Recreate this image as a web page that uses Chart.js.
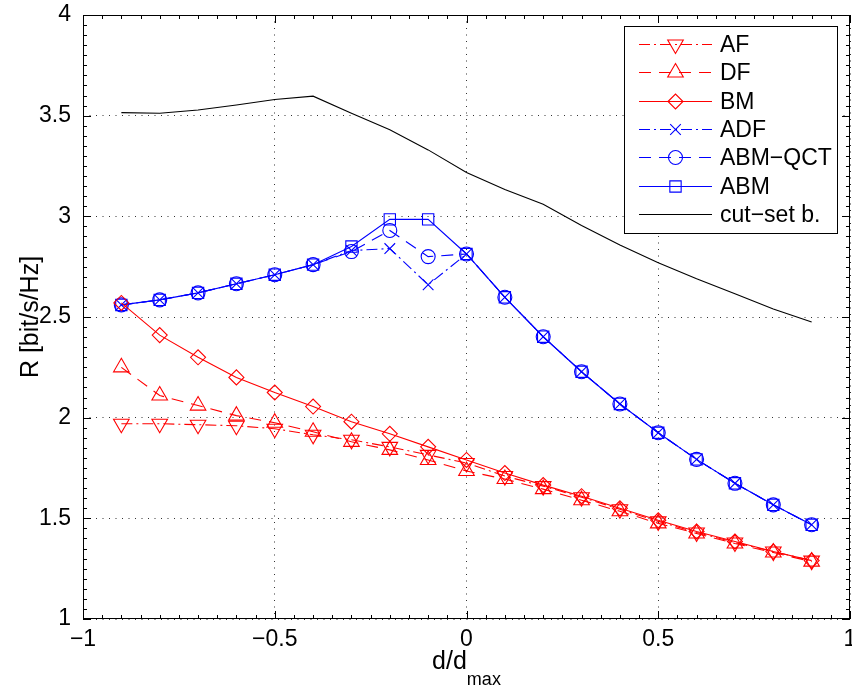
<!DOCTYPE html>
<html>
<head>
<meta charset="utf-8">
<title>Achievable rate vs relay position</title>
<script src="https://cdn.jsdelivr.net/npm/chart.js"></script>
<style>
  html, body { margin: 0; padding: 0; background: #fff; }
  canvas { display: block; }
</style>
</head>
<body>
<canvas id="rateChart" width="852" height="693"></canvas>
<script>
// relay position, normalised
var dRatio = [-0.9, -0.8, -0.7, -0.6, -0.5, -0.4, -0.3, -0.2, -0.1, 0, 0.1, 0.2, 0.3, 0.4, 0.5, 0.6, 0.7, 0.8, 0.9];

// rates in bit/s/Hz
var rateAF = [1.97, 1.97, 1.965, 1.96, 1.945, 1.915, 1.89, 1.855, 1.815, 1.775, 1.71, 1.66, 1.605, 1.545, 1.485, 1.43, 1.38, 1.335, 1.29];
var rateDF = [2.25, 2.11, 2.06, 2.01, 1.975, 1.93, 1.88, 1.84, 1.79, 1.735, 1.695, 1.645, 1.59, 1.535, 1.475, 1.425, 1.375, 1.33, 1.285];
var rateBM = [2.57, 2.41, 2.30, 2.20, 2.125, 2.055, 1.98, 1.92, 1.855, 1.79, 1.725, 1.665, 1.61, 1.55, 1.49, 1.435, 1.385, 1.335, 1.29];
var rateADF = [2.56, 2.585, 2.62, 2.665, 2.71, 2.76, 2.83, 2.84, 2.66, 2.813, 2.598, 2.402, 2.228, 2.068, 1.925, 1.793, 1.674, 1.567, 1.468];
var rateABMQCT = [2.56, 2.585, 2.62, 2.665, 2.71, 2.76, 2.825, 2.93, 2.80, 2.813, 2.598, 2.402, 2.228, 2.068, 1.925, 1.793, 1.674, 1.567, 1.468];
var rateABM = [2.56, 2.585, 2.62, 2.665, 2.71, 2.76, 2.85, 2.985, 2.985, 2.813, 2.598, 2.402, 2.228, 2.068, 1.925, 1.793, 1.674, 1.567, 1.468];
var rateCutSet = [3.515, 3.512, 3.528, 3.553, 3.58, 3.597, 3.512, 3.43, 3.33, 3.218, 3.133, 3.06, 2.955, 2.858, 2.77, 2.69, 2.615, 2.54, 2.475];

var xTicks = [-1, -0.5, 0, 0.5, 1];
var xTickLabels = ['\u22121', '\u22120.5', '0', '0.5', '1'];
var yTicks = [1, 1.5, 2, 2.5, 3, 3.5, 4];
var yTickLabels = ['1', '1.5', '2', '2.5', '3', '3.5', '4'];

var FONT = '"Liberation Sans", Arial, Helvetica, sans-serif';
var RED = '#ff0000', BLUE = '#0000ff';

function pts(ys) {
  return dRatio.map(function (x, i) { return { x: x, y: ys[i] }; });
}

function series(label, ys, color, dash, style, radius, rotation) {
  return {
    label: label,
    data: pts(ys),
    borderColor: color,
    borderWidth: 1.1,
    borderDash: dash,
    backgroundColor: 'rgba(0,0,0,0)',
    pointStyle: style,
    pointRadius: radius,
    pointRotation: rotation || 0,
    pointBorderColor: color,
    pointBackgroundColor: 'rgba(0,0,0,0)',
    pointBorderWidth: 1.1,
    tension: 0,
    fill: false
  };
}

var dashDot = [11, 4, 2, 4];
var dashed = [12, 8];

var datasets = [
  series('AF', rateAF, RED, dashDot, 'triangle', 9, 180),
  series('DF', rateDF, RED, dashed, 'triangle', 9),
  series('BM', rateBM, RED, [], 'rectRot', 7.5),
  series('ADF', rateADF, BLUE, dashDot, 'crossRot', 7.5),
  series('ABM\u2212QCT', rateABMQCT, BLUE, dashed, 'circle', 7),
  series('ABM', rateABM, BLUE, [], 'rect', 8),
  series('cut\u2212set b.', rateCutSet, '#000000', [], false, 0)
];

// box, inward tick marks, legend and axis titles
var decorations = {
  id: 'decorations',
  afterDraw: function (chart) {
    var ctx = chart.ctx, a = chart.chartArea;
    var xs = chart.scales.x, ys = chart.scales.y;
    ctx.save();
    ctx.strokeStyle = '#000';
    ctx.lineWidth = 1;
    ctx.setLineDash([]);
    ctx.strokeRect(Math.round(a.left) + 0.5, Math.round(a.top) + 0.5,
      Math.round(a.right - a.left) - 1, Math.round(a.bottom - a.top) - 1);

    ctx.beginPath();
    var v, p, k;
    for (k = 0; k <= 40; k++) {
      v = -1 + k * 0.05;
      p = Math.round(xs.getPixelForValue(v)) + 0.5;
      var len = (k % 10 === 0) ? 8 : 4;
      ctx.moveTo(p, a.bottom); ctx.lineTo(p, a.bottom - len);
      ctx.moveTo(p, a.top); ctx.lineTo(p, a.top + len);
    }
    for (k = 0; k <= 60; k++) {
      v = 1 + k * 0.05;
      p = Math.round(ys.getPixelForValue(v)) + 0.5;
      var len2 = (k % 10 === 0) ? 8 : 4;
      ctx.moveTo(a.left, p); ctx.lineTo(a.left + len2, p);
      ctx.moveTo(a.right, p); ctx.lineTo(a.right - len2, p);
    }
    ctx.stroke();

    // legend
    var lx = 624, ly = 26, lw = 213, lh = 207, rowH = 28.3;
    ctx.fillStyle = '#fff';
    ctx.fillRect(lx, ly, lw, lh);
    ctx.strokeRect(lx + 0.5, ly + 0.5, lw, lh);
    ctx.font = '23px ' + FONT;
    ctx.textBaseline = 'middle';
    chart.data.datasets.forEach(function (ds, i) {
      var cy = Math.round(ly + 18 + i * rowH) + 0.5;
      ctx.strokeStyle = ds.borderColor;
      ctx.lineWidth = ds.borderWidth;
      ctx.setLineDash(ds.borderDash || []);
      ctx.beginPath();
      ctx.moveTo(639, cy); ctx.lineTo(712, cy);
      ctx.stroke();
      ctx.setLineDash([]);
      if (ds.pointStyle) {
        ctx.fillStyle = 'rgba(0,0,0,0)';
        Chart.helpers.drawPoint(ctx, {
          pointStyle: ds.pointStyle,
          rotation: ds.pointRotation,
          radius: ds.pointRadius,
          borderWidth: ds.pointBorderWidth
        }, 675.5, cy);
      }
      ctx.fillStyle = '#000';
      ctx.fillText(ds.label, 720, cy + 1);
    });

    // axis titles
    ctx.fillStyle = '#000';
    ctx.textBaseline = 'alphabetic';
    ctx.textAlign = 'left';
    ctx.font = '25px ' + FONT;
    var main = 'd/d', sub = 'max';
    var wMain = ctx.measureText(main).width;
    ctx.font = '18px ' + FONT;
    var wSub = ctx.measureText(sub).width;
    var x0 = (a.left + a.right) / 2 - (wMain + wSub) / 2;
    ctx.font = '25px ' + FONT;
    ctx.fillText(main, x0, 669);
    ctx.font = '18px ' + FONT;
    ctx.fillText(sub, x0 + wMain, 685);

    ctx.translate(31, (a.top + a.bottom) / 2);
    ctx.rotate(-Math.PI / 2);
    ctx.font = '25px ' + FONT;
    ctx.textAlign = 'center';
    ctx.textBaseline = 'middle';
    ctx.fillText('R [bit/s/Hz]', 0, 0);
    ctx.restore();
  }
};

var gridOpts = {
  color: 'rgba(0,0,0,0.8)',
  lineWidth: 1,
  drawTicks: false
};

new Chart(document.getElementById('rateChart').getContext('2d'), {
  type: 'line',
  data: { datasets: datasets },
  options: {
    responsive: false,
    animation: false,
    layout: { autoPadding: false, padding: { left: 0, right: 2, top: 15, bottom: 0 } },
    plugins: {
      legend: { display: false },
      tooltip: { enabled: false }
    },
    scales: {
      x: {
        type: 'linear',
        min: -1,
        max: 1,
        afterBuildTicks: function (scale) {
          scale.ticks = xTicks.map(function (v) { return { value: v }; });
        },
        afterFit: function (scale) {
          scale.height = 74;
          scale.paddingLeft = 0;
          scale.paddingRight = 0;
        },
        grid: gridOpts,
        border: { display: false, dash: [1, 5.5] },
        ticks: {
          padding: 7,
          color: '#000',
          font: { family: FONT, size: 23 },
          maxRotation: 0,
          callback: function (v) { return xTickLabels[xTicks.indexOf(v)]; }
        }
      },
      y: {
        type: 'linear',
        min: 1,
        max: 4,
        afterBuildTicks: function (scale) {
          scale.ticks = yTicks.map(function (v) { return { value: v }; });
        },
        afterFit: function (scale) {
          scale.width = 83;
          scale.paddingTop = 0;
          scale.paddingBottom = 0;
        },
        grid: gridOpts,
        border: { display: false, dash: [1, 5.5] },
        ticks: {
          padding: 12,
          color: '#000',
          font: { family: FONT, size: 23 },
          callback: function (v) { return yTickLabels[yTicks.indexOf(v)]; }
        }
      }
    }
  },
  plugins: [decorations]
});
</script>
</body>
</html>
